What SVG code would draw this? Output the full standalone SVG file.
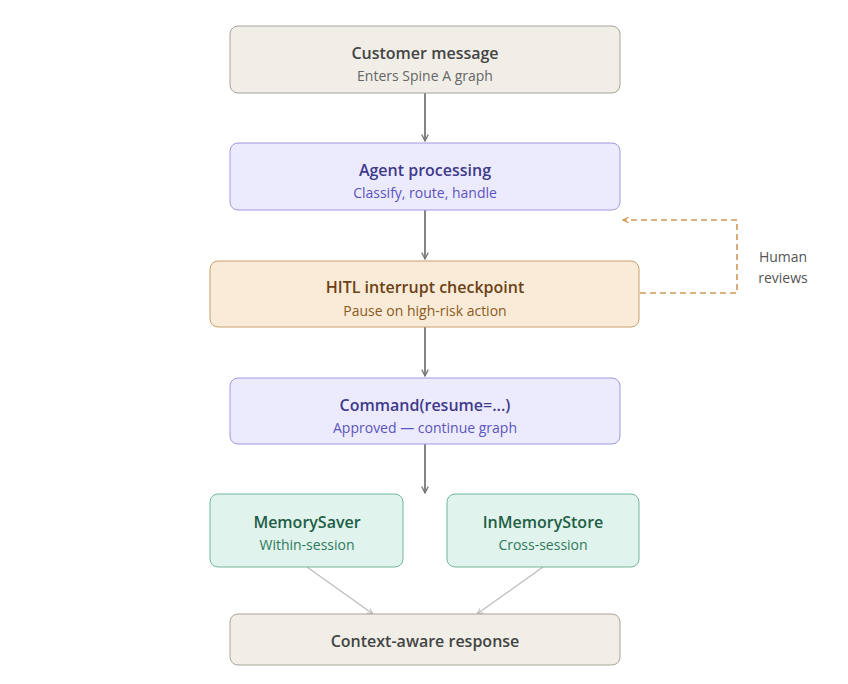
<svg xmlns="http://www.w3.org/2000/svg" width="848" height="684" viewBox="0 0 848 684">
<style>
text{font-family:"Open Sans","Noto Sans",sans-serif;text-anchor:middle}
.t{font-size:16px;font-weight:600}
.s{font-size:14px}
.c{stroke:#777;stroke-width:1.8;fill:none}
.g{stroke:#bbb;stroke-width:1.2;fill:none}
</style>
<defs>
<marker id="a" viewBox="0 0 10 10" refX="9" refY="5" markerWidth="8" markerHeight="8" orient="auto-start-reverse" markerUnits="userSpaceOnUse"><path d="M1 1L9 5L1 9" fill="none" stroke="#777" stroke-width="1.6"/></marker>
<marker id="b" viewBox="0 0 10 10" refX="9" refY="5" markerWidth="7" markerHeight="7" orient="auto" markerUnits="userSpaceOnUse"><path d="M1 1L9 5L1 9" fill="none" stroke="#bbb" stroke-width="1.4"/></marker>
<marker id="o" viewBox="0 0 10 10" refX="9" refY="5" markerWidth="7" markerHeight="7" orient="auto" markerUnits="userSpaceOnUse"><path d="M1 1L9 5L1 9" fill="none" stroke="#d09a55" stroke-width="1.6"/></marker>
</defs>
<rect width="848" height="684" fill="#fff"/>
<g id="connectors">
<line class="c" x1="425" y1="93" x2="425" y2="141" marker-end="url(#a)"/>
<line class="c" x1="425" y1="210" x2="425" y2="259" marker-end="url(#a)"/>
<line class="c" x1="425" y1="327" x2="425" y2="376" marker-end="url(#a)"/>
<line class="c" x1="425" y1="444" x2="425" y2="493" marker-end="url(#a)"/>
<line class="g" x1="307" y1="567" x2="373" y2="614" marker-end="url(#b)"/>
<line class="g" x1="543" y1="567" x2="477" y2="614" marker-end="url(#b)"/>
<path d="M640 293H737V220H623" fill="none" stroke="#d09a55" stroke-width="1.6" stroke-dasharray="6 4" marker-end="url(#o)"/>
<text x="783" y="262" class="s" fill="#555">Human</text>
<text x="783" y="283" class="s" fill="#555">reviews</text>
</g>
<g id="customer"><rect x="230" y="26" width="390" height="67" rx="8" fill="#f0eee7" stroke="#a8a49b"/><text x="425" y="59" class="t" fill="#444">Customer message</text><text x="425" y="81" class="s" fill="#666">Enters Spine A graph</text></g>
<g id="agent"><rect x="230" y="143" width="390" height="67" rx="8" fill="#ecebfd" stroke="#9e98dd"/><text x="425" y="176" class="t" fill="#3f3a8c">Agent processing</text><text x="425" y="198" class="s" fill="#5b54c0">Classify, route, handle</text></g>
<g id="hitl"><rect x="210" y="261" width="429" height="66" rx="8" fill="#faebd8" stroke="#c9a06a"/><text x="425" y="293" class="t" fill="#6b4215">HITL interrupt checkpoint</text><text x="425" y="316" class="s" fill="#8a5a20">Pause on high-risk action</text></g>
<g id="command"><rect x="230" y="378" width="390" height="66" rx="8" fill="#ecebfd" stroke="#9e98dd"/><text x="425" y="411" class="t" fill="#3f3a8c">Command(resume=...)</text><text x="425" y="433" class="s" fill="#5b54c0">Approved — continue graph</text></g>
<g id="memsaver"><rect x="210" y="494" width="193" height="73" rx="8" fill="#e0f3ec" stroke="#72b79a"/><text x="307" y="528" class="t" fill="#1d5e45">MemorySaver</text><text x="307" y="550" class="s" fill="#2f7a5c">Within-session</text></g>
<g id="store"><rect x="447" y="494" width="192" height="73" rx="8" fill="#e0f3ec" stroke="#72b79a"/><text x="543" y="528" class="t" fill="#1d5e45">InMemoryStore</text><text x="543" y="550" class="s" fill="#2f7a5c">Cross-session</text></g>
<g id="response"><rect x="230" y="614" width="390" height="51" rx="8" fill="#f0eee7" stroke="#a8a49b"/><text x="425" y="647" class="t" fill="#444">Context-aware response</text></g>
</svg>
